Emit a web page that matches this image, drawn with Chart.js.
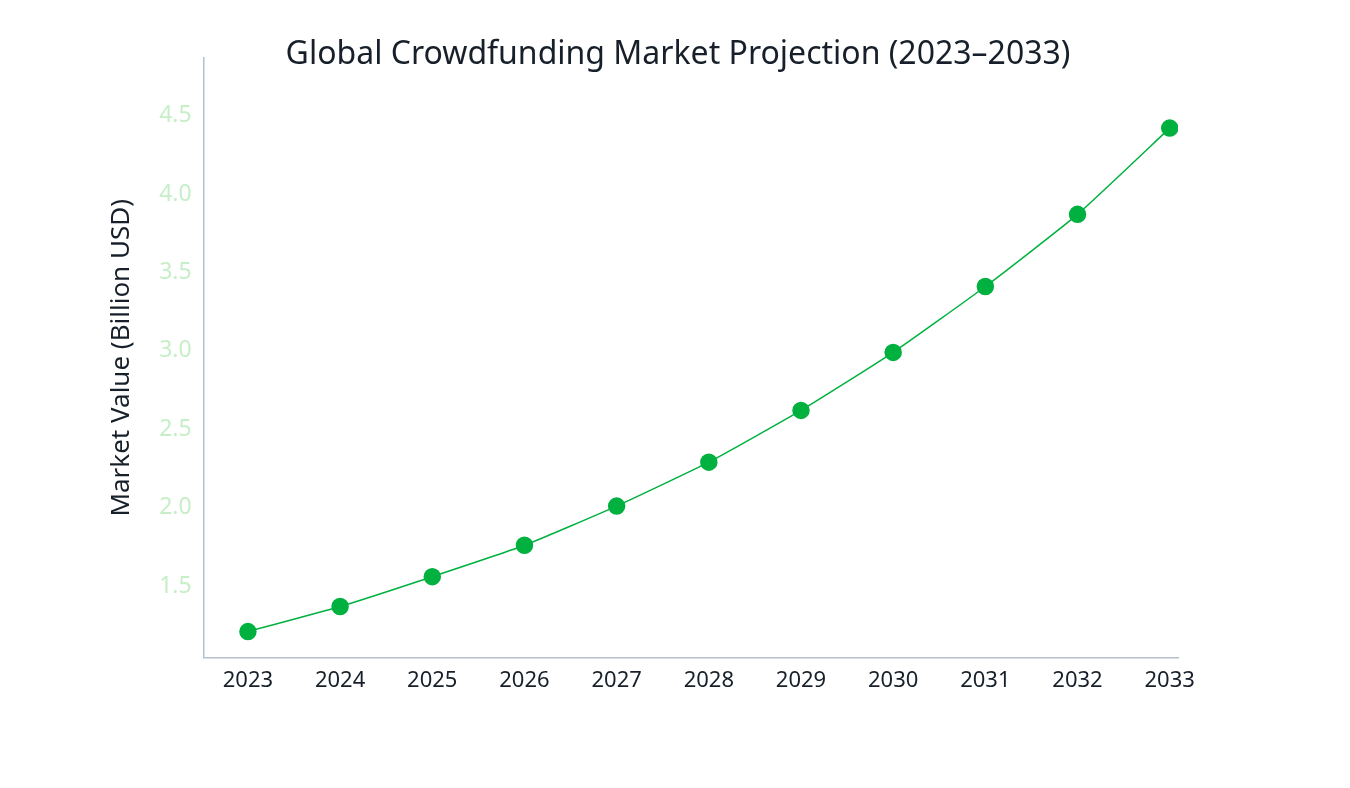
<!DOCTYPE html>
<html><head><meta charset="utf-8">
<script src="https://cdn.jsdelivr.net/npm/chart.js@4"></script>
<style>html,body{margin:0;background:#fff}#w{width:1350px;height:788px}</style></head>
<body><div id="w"><canvas id="c"></canvas></div>
<script>
const years = [2023,2024,2025,2026,2027,2028,2029,2030,2031,2032,2033];
const marketValue = [1.21,1.37,1.56,1.76,2.01,2.29,2.62,2.99,3.41,3.87,4.42];
const titleText = 'Global Crowdfunding Market Projection (2023–2033)';
const yTitle = 'Market Value (Billion USD)';
const font = "'Noto Sans', sans-serif";
const titlePlugin = {id:'t', afterDraw(ch){const x=ch.ctx;x.save();x.font="32px "+font;x.fillStyle='#17202a';x.textAlign='center';x.textBaseline='middle';x.fillText(titleText,678,55);x.restore();}};
new Chart(document.getElementById('c'),{
 type:'line',
 data:{datasets:[{data:years.map((y,i)=>({x:y,y:marketValue[i]})),borderColor:'#00b140',backgroundColor:'#00b140',borderWidth:1.5,pointRadius:8,pointHoverRadius:8,tension:0.15}]},
 options:{responsive:true,maintainAspectRatio:false,animation:false,
  layout:{padding:{top:58,left:102,right:172,bottom:84}},
  plugins:{legend:{display:false},title:{display:false},tooltip:{enabled:false}},
  scales:{
   x:{type:'linear',min:2022.52,max:2033.09,grid:{display:false,drawTicks:false},border:{color:'#b4c0cc',width:1.5},
      afterBuildTicks(a){a.ticks=years.map(v=>({value:v}));},
      ticks:{color:'#17202a',font:{family:font,size:22},padding:10,callback:v=>String(v),autoSkip:false,maxRotation:0}},
   y:{min:1.044,max:4.867,grid:{display:false,drawTicks:false},border:{color:'#b4c0cc',width:1.5},
      afterBuildTicks(a){a.ticks=[1.5,2,2.5,3,3.5,4,4.5].map(v=>({value:v}));},
      ticks:{color:'#c6efc8',font:{family:font,size:23},padding:12,callback:v=>v.toFixed(1)},
      title:{display:true,text:yTitle,color:'#17202a',font:{family:font,size:26},padding:{bottom:10}}}
  }},
 plugins:[titlePlugin]
});
</script></body></html>
